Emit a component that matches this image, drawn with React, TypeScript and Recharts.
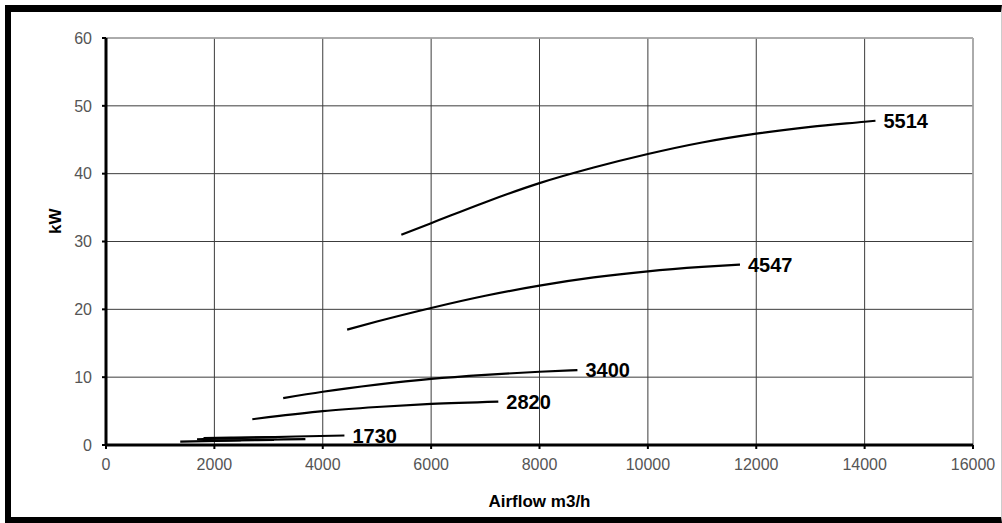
import { LineChart, Line, XAxis, YAxis, CartesianGrid, ReferenceLine } from 'recharts';

const xTicks = [0, 2000, 4000, 6000, 8000, 10000, 12000, 14000, 16000];
const yTicks = [0, 10, 20, 30, 40, 50, 60];

// curve 5514
const airflow5514 = [5450, 6000, 7000, 8000, 9000, 10000, 11000, 12000, 13000, 14000, 14200];
const kw5514 = [31.0, 32.7, 35.8, 38.6, 40.9, 42.9, 44.6, 45.9, 46.9, 47.65, 47.8];

// curve 4547
const airflow4547 = [4450, 5000, 6000, 7000, 8000, 9000, 10000, 11000, 11700];
const kw4547 = [17.0, 18.2, 20.2, 22.0, 23.5, 24.7, 25.6, 26.25, 26.6];

// curve 3400
const airflow3400 = [3270, 4000, 5000, 6000, 7000, 8000, 8700];
const kw3400 = [6.9, 7.85, 8.9, 9.75, 10.35, 10.8, 11.05];

// curve 2820
const airflow2820 = [2700, 3000, 4000, 5000, 6000, 7240];
const kw2820 = [3.8, 4.1, 5.0, 5.6, 6.05, 6.4];

// curve 1730 and the small unlabeled ones under it
const airflow1730 = [1680, 2500, 3500, 4400];
const kw1730 = [0.85, 1.05, 1.25, 1.4];
const airflowSmallA = [1370, 2500, 3680];
const kwSmallA = [0.5, 0.7, 0.88];
const airflowSmallB = [1800, 2500, 3150];
const kwSmallB = [1.02, 1.1, 1.16];
const airflowSmallC = [1900, 2500, 3100];
const kwSmallC = [0.66, 0.7, 0.74];

const zip = (xs: number[], ys: number[]) => xs.map((x, i) => ({ airflow: x, kw: ys[i] }));

const curves = [
  { name: '5514', data: zip(airflow5514, kw5514) },
  { name: '4547', data: zip(airflow4547, kw4547) },
  { name: '3400', data: zip(airflow3400, kw3400) },
  { name: '2820', data: zip(airflow2820, kw2820) },
  { name: '1730', data: zip(airflow1730, kw1730) },
  { name: '', data: zip(airflowSmallA, kwSmallA) },
  { name: '', data: zip(airflowSmallB, kwSmallB) },
  { name: '', data: zip(airflowSmallC, kwSmallC) },
];

const font = '"Liberation Sans", Arial, sans-serif';

const endLabel = (name: string, count: number) => (props: any) => {
  if (!name || props.index !== count - 1) return <g key={`l-${name}-${props.index}`} />;
  return (
    <text
      key={`l-${name}`}
      x={props.x + 8}
      y={props.y}
      dy="0.36em"
      fontSize={20}
      fontWeight="bold"
      fontFamily={font}
      fill="#000"
    >
      {name}
    </text>
  );
};

const YTitle = (props: any) => {
  const vb = props.viewBox;
  const cx = vb.x + 55;
  const cy = vb.y + vb.height * 0.45;
  return (
    <text
      x={cx}
      y={cy}
      transform={`rotate(-90 ${cx} ${cy})`}
      textAnchor="middle"
      dy="0.36em"
      fontSize={17}
      fontWeight="bold"
      fontFamily={font}
      fill="#000"
    >
      kW
    </text>
  );
};

export default function App() {
  return (
    <div
      style={{
        position: 'absolute',
        left: 0,
        top: 0,
        width: 1002,
        height: 523,
        background: '#fff',
        overflow: 'hidden',
        fontFamily: font,
      }}
    >
      <div
        style={{
          position: 'absolute',
          left: 5,
          top: 5,
          width: 990,
          height: 505,
          borderTop: '7px solid #000',
          borderLeft: '6px solid #000',
          borderBottom: '6px solid #000',
          borderRight: '1px solid #ccc',
        }}
      />
      <LineChart
        width={1002}
        height={523}
        margin={{ top: 38, right: 29, bottom: 0, left: 0 }}
        style={{ position: 'absolute', left: 0, top: 0 }}
      >
        <CartesianGrid stroke="#3c3c3c" strokeWidth={1} />
        <ReferenceLine y={60} stroke="#b0b0b0" strokeWidth={1.5} />
        <ReferenceLine x={16000} stroke="#b0b0b0" strokeWidth={1.5} />
        <XAxis
          type="number"
          dataKey="airflow"
          domain={[0, 16000]}
          ticks={xTicks}
          height={78}
          allowDuplicatedCategory={false}
          axisLine={{ stroke: '#000', strokeWidth: 3 }}
          tickLine={{ stroke: '#000', strokeWidth: 2 }}
          tickSize={4}
          tickMargin={10}
          tick={{ fill: '#555', fontSize: 16, fontFamily: font }}
          label={{
            value: 'Airflow m3/h',
            position: 'insideBottom',
            offset: 16,
            style: { fill: '#000', fontSize: 17, fontWeight: 'bold', fontFamily: font },
          }}
        />
        <YAxis
          type="number"
          domain={[0, 60]}
          ticks={yTicks}
          width={106}
          axisLine={{ stroke: '#000', strokeWidth: 3 }}
          tickLine={{ stroke: '#000', strokeWidth: 2 }}
          tickSize={4}
          tickMargin={10}
          tick={{ fill: '#555', fontSize: 16, fontFamily: font }}
          label={<YTitle />}
        />
        {curves.map((c, i) => (
          <Line
            key={i}
            data={c.data}
            dataKey="kw"
            type="monotone"
            stroke="#000"
            strokeWidth={2.2}
            dot={false}
            activeDot={false}
            isAnimationActive={false}
            label={endLabel(c.name, c.data.length)}
          />
        ))}
      </LineChart>
    </div>
  );
}
